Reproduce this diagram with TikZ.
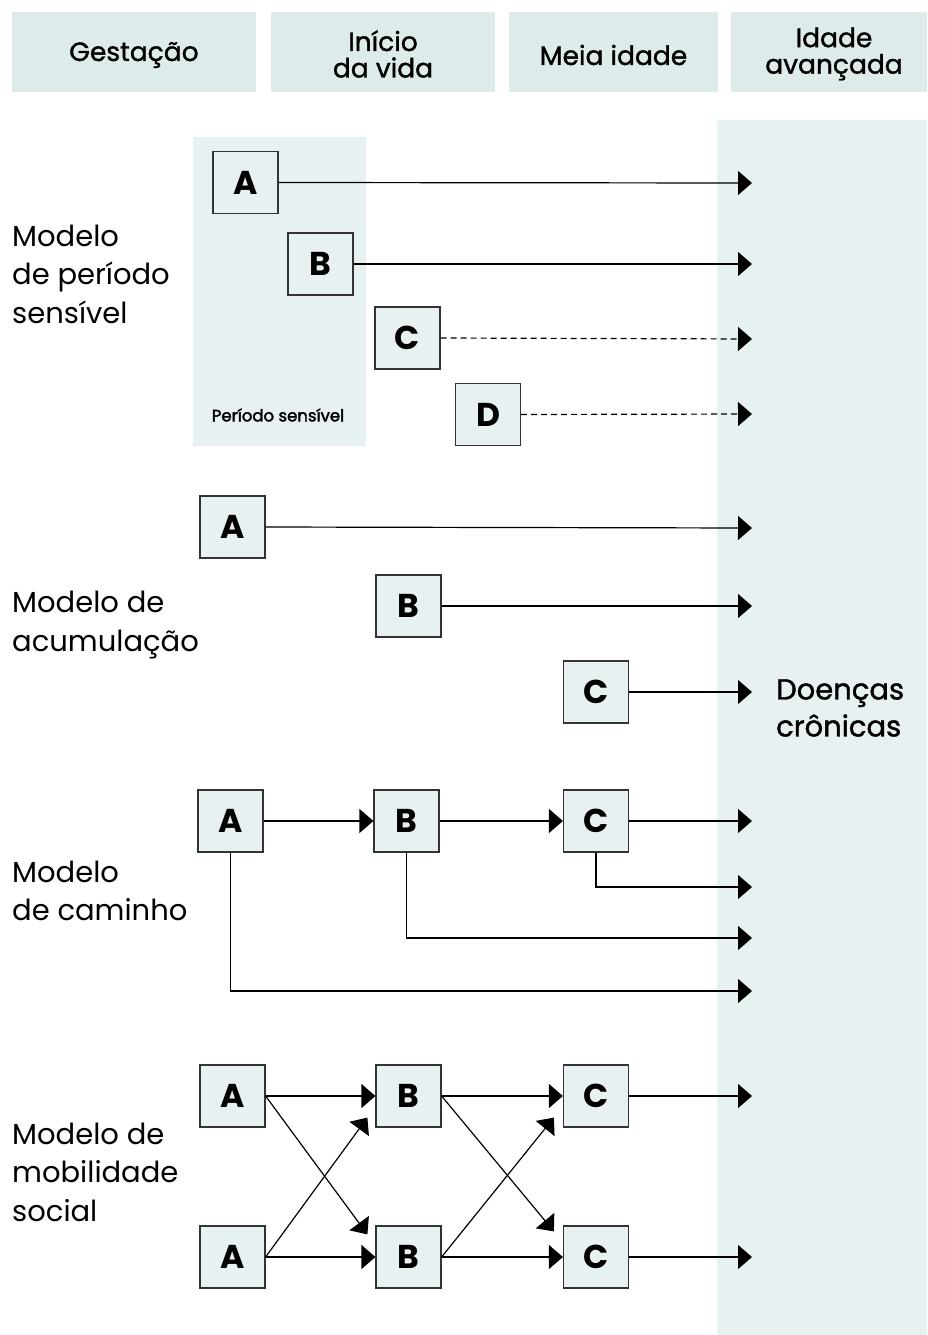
\documentclass[tikz,border=0pt]{standalone}
\usepackage{fontspec}
\setmainfont{Poppins}
\newfontfamily\semib[FakeBold=1.3]{Poppins}
\newfontfamily\semibb[FakeBold=2.2]{Poppins}
\usetikzlibrary{arrows.meta}
\definecolor{hdrc}{HTML}{DDEBEA}
\definecolor{colc}{HTML}{E7F1F1}
\definecolor{boxc}{HTML}{E8F1F1}
\definecolor{linec}{HTML}{333333}
\tikzset{
  hdr/.style={fill=hdrc, draw=none, align=center, inner sep=0pt, font=\semib\fontsize{26.5}{26.5}\selectfont},
  lbox/.style={draw=linec, line width=1.2pt, fill=boxc, minimum width=65pt, minimum height=62pt, inner sep=0pt, font=\fontsize{33}{33}\selectfont\bfseries},
  arr/.style={line width=1.2pt, draw=black, -{Triangle[length=14pt,width=24pt]}},
  darr/.style={arr, dash pattern=on 6pt off 4pt},
  side/.style={anchor=west, align=left, inner sep=0pt, font=\fontsize{29}{38.5}\selectfont},
}
\begin{document}
\begin{tikzpicture}[x=1pt,y=-1pt]
\useasboundingbox (0,0) rectangle (927,1335);
% headers
\fill[hdrc] (12,12) rectangle (256,92);
\fill[hdrc] (271,12) rectangle (495,92);
\fill[hdrc] (509,12) rectangle (718,92);
\fill[hdrc] (731,12) rectangle (927,92);
\node[hdr] (h1) at (134,55) {Gestação};
\node[hdr] (h2) at (383,54) {Início\\da vida};
\node[hdr] (h3) at (613.5,55) {Meia idade};
\node[hdr] (h4) at (834,54) {Idade\\avançada};
% right column
\fill[colc] (717,120) rectangle (927,1335);
% sensitive period
\fill[colc] (193,137) rectangle (366,446);
\node[inner sep=0pt, font=\semibb\fontsize{16.5}{17}\selectfont] (ps) at (278,415) {Período sensível};
% coordinates for arrow ends
\coordinate (e1a) at (752,183);
\coordinate (e1b) at (752,264);
\coordinate (e1c) at (752,339);
\coordinate (e1d) at (752,414);
\coordinate (e2a) at (752,528);
\coordinate (e2b) at (752,606);
\coordinate (e2c) at (752,692);
\coordinate (e3a) at (752,821);
\coordinate (e3b) at (752,887);
\coordinate (e3c) at (752,938);
\coordinate (e3d) at (752,991);
\coordinate (e4a) at (752,1096);
\coordinate (e4b) at (752,1257);
% section 1
\node[lbox] (s1a) at (245.5,182.5) {A};
\node[lbox] (s1b) at (320.5,264) {B};
\node[lbox] (s1c) at (407.5,338) {C};
\node[lbox] (s1d) at (488,414.5) {D};
\draw[arr] (s1a.east) -- (e1a);
\draw[arr] (s1b.east) -- (e1b);
\draw[darr] (s1c.east) -- (e1c);
\draw[darr] (s1d.east) -- (e1d);
\node[side] (l1) at (12,274) {Modelo\\de período\\sensível};
% section 2
\node[lbox] (s2a) at (232.5,527) {A};
\node[lbox] (s2b) at (408.5,606) {B};
\node[lbox] (s2c) at (596,692) {C};
\draw[arr] (s2a.east) -- (e2a);
\draw[arr] (s2b.east) -- (e2b);
\draw[arr] (s2c.east) -- (e2c);
\node[side] (l2) at (12,625) {Modelo de\\acumulação};
\node[side, font=\semib\fontsize{29}{37}\selectfont] (dc) at (776,708) {Doenças\\crônicas};
% section 3
\node[lbox] (s3a) at (230.5,821) {A};
\node[lbox] (s3b) at (406.5,821) {B};
\node[lbox] (s3c) at (596,821) {C};
\draw[arr] (s3a.east) -- (s3b.west);
\draw[arr] (s3b.east) -- (s3c.west);
\draw[arr] (s3c.east) -- (e3a);
\draw[arr] (s3c.south) |- (e3b);
\draw[arr] (s3b.south) |- (e3c);
\draw[arr] (s3a.south) |- (e3d);
\node[side] (l3) at (12,891) {Modelo\\de caminho};
% section 4
\node[lbox] (s4a1) at (232.5,1096) {A};
\node[lbox] (s4b1) at (408.5,1096) {B};
\node[lbox] (s4c1) at (596,1096) {C};
\node[lbox] (s4a2) at (232.5,1257) {A};
\node[lbox] (s4b2) at (408.5,1257) {B};
\node[lbox] (s4c2) at (596,1257) {C};
\draw[arr] (s4a1.east) -- (s4b1.west);
\draw[arr] (s4a2.east) -- (s4b2.west);
\draw[arr] (s4b1.east) -- (s4c1.west);
\draw[arr] (s4b2.east) -- (s4c2.west);
\draw[arr] (s4a1.east) -- ([xshift=-8pt,yshift=-9pt]s4b2.north west);
\draw[arr] (s4a2.east) -- ([xshift=-8pt,yshift=10pt]s4b1.south west);
\draw[arr] (s4b1.east) -- ([xshift=-9pt,yshift=-6pt]s4c2.north west);
\draw[arr] (s4b2.east) -- ([xshift=-9pt,yshift=10pt]s4c1.south west);
\draw[arr] (s4c1.east) -- (e4a);
\draw[arr] (s4c2.east) -- (e4b);
\node[side] (l4) at (12,1172) {Modelo de\\mobilidade\\social};
\end{tikzpicture}
\end{document}
